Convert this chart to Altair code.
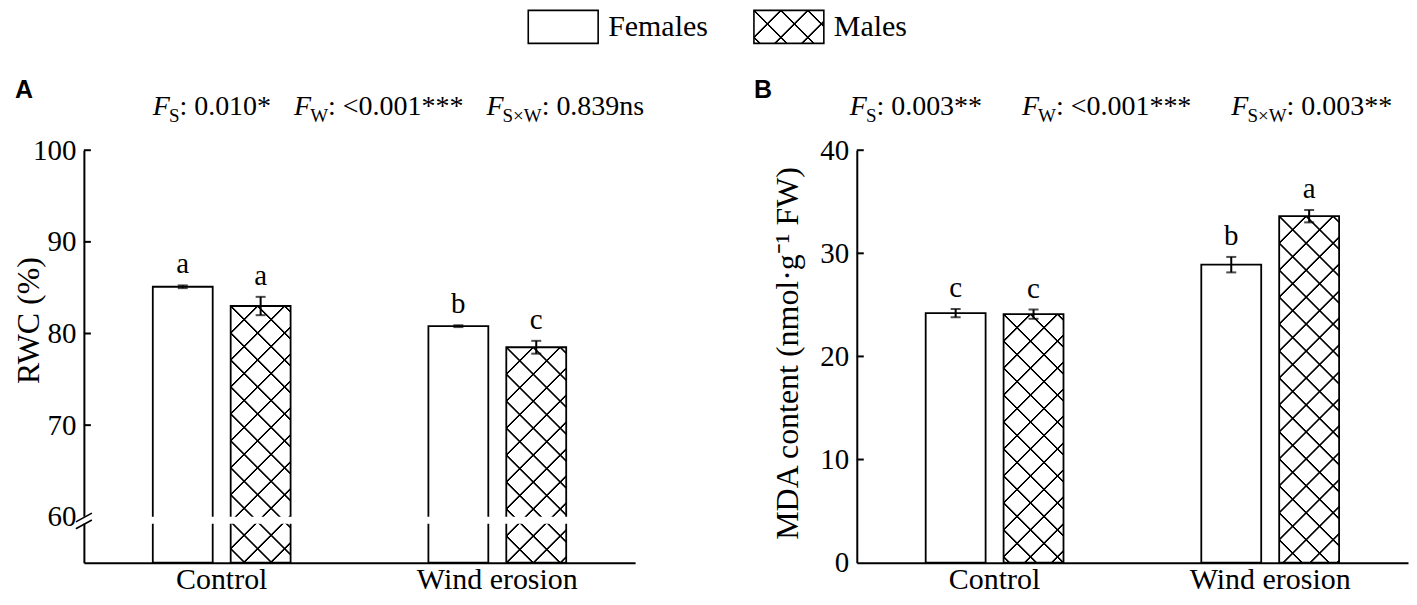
import math
import altair as alt
import pandas as pd

# ---------------- data ----------------
conditions = ["Control", "Wind erosion"]
sexes = ["Females", "Males"]
group_condition = ["Control", "Control", "Wind erosion", "Wind erosion"]
group_sex = ["Females", "Males", "Females", "Males"]

rwc_mean = [85.1, 83.0, 80.8, 78.5]
rwc_se = [0.15, 1.0, 0.1, 0.7]
rwc_letter = ["a", "a", "b", "c"]
rwc_ticks = [60, 70, 80, 90, 100]
rwc_inward = [70, 80, 90, 100]

mda_mean = [24.2, 24.1, 28.9, 33.6]
mda_se = [0.4, 0.45, 0.75, 0.6]
mda_letter = ["c", "c", "b", "a"]
mda_ticks = [0, 10, 20, 30, 40]
mda_inward = [10, 20, 30, 40]

rwc_stats = [("S", "0.010*"), ("W", "<0.001***"), ("S×W", "0.839ns")]
mda_stats = [("S", "0.003**"), ("W", "<0.001***"), ("S×W", "0.003**")]

# ---------------- style ----------------
SERIF = "Liberation Serif"
SANS = "Liberation Sans"
INK = "black"
CLEAR = "rgba(0,0,0,0)"
PW, PH = 552, 413
PI, PO = 0.2308, 0.8846
STEP = (PW / 2) / (2 - PI + 2 * PO)
BAR_W = STEP * (1 - PI)
HATCH_STEP = 27.0
HATCH_LW = 1.0
HATCH_SOFT = 0.6
TOP_ANCHOR = 99

WID = {' ': 250, ':': 278, '.': 250, '*': 500, '<': 564, 'n': 500, 's': 389,
       'S': 556, 'W': 944, '×': 564}


def text_w(s, size):
    return sum(WID.get(ch, 500) for ch in s) * size / 1000.0


def make_df(mean, se, letter):
    return pd.DataFrame({
        "condition": group_condition,
        "sex": group_sex,
        "mean": mean,
        "lo": [m - s for m, s in zip(mean, se)],
        "hi": [m + s for m, s in zip(mean, se)],
        "letter": letter,
    })


def hatch(w, h, family):
    S = w + h
    k = S / (w * w + h * h)
    if family == 0:
        x1, y1, x2, y2 = 0.0, 0.0, k * w, k * h
        ts = [n * HATCH_STEP / S for n in range(0, int(S // HATCH_STEP) + 1)]
    else:
        x1, y1, x2, y2 = 0.0, 1.0, k * w, 1.0 - k * h
        n0 = math.ceil(-h / HATCH_STEP)
        n1 = math.floor(w / HATCH_STEP)
        ts = [(n * HATCH_STEP + h) / S for n in range(n0, n1 + 1)]
    core = HATCH_LW * math.sqrt(2) / 2 / S
    ramp = HATCH_SOFT * math.sqrt(2) / S
    stops = []
    last = 0.0
    for t in ts:
        for off, col in ((t - core - ramp, CLEAR), (t - core, INK),
                         (t + core, INK), (t + core + ramp, CLEAR)):
            off = min(max(off, last), 1.0)
            last = off
            stops.append(alt.GradientStop(offset=round(off, 6), color=col))
    return alt.LinearGradient(gradient="linear", stops=stops,
                              x1=x1, y1=y1, x2=x2, y2=y2)


def txt(s, x, y, size, font=SERIF, italic=False, bold=False,
        align="left", baseline="alphabetic"):
    mk = dict(font=font, fontSize=size, color=INK, align=align, baseline=baseline)
    if italic:
        mk["fontStyle"] = "italic"
    if bold:
        mk["fontWeight"] = "bold"
    return alt.Chart(pd.DataFrame({"t": [s]})).mark_text(**mk).encode(
        text="t:N", x=alt.value(x), y=alt.value(y))


F_SIZE, SUB_SIZE, SUB_DROP = 28, 19, 7


def stat_layers(stats, x0, gap, base_y):
    out = []
    x = x0
    for sub, val in stats:
        out.append(txt("F", x, base_y, F_SIZE, italic=True))
        xs = x + 0.611 * F_SIZE - 1
        out.append(txt(sub, xs, base_y + SUB_DROP, SUB_SIZE))
        xr = xs + text_w(sub, SUB_SIZE)
        rest = ": " + val
        out.append(txt(rest, xr, base_y, F_SIZE))
        x = xr + text_w(rest, F_SIZE) + gap
    return out


def anchor(x_left, x_right):
    return alt.Chart(pd.DataFrame({"a": [0]})).mark_rect(opacity=0).encode(
        x=alt.value(x_left), x2=alt.value(x_right),
        y=alt.value(-TOP_ANCHOR), y2=alt.value(-TOP_ANCHOR + 1))


def panel(df, ymin, ymax, ticks, inward, ytitle, title_x, title_y, tag, tag_x,
          stats, stats_x, gap, left, right, brk=None):
    xaxis = alt.Axis(title=None, labelAngle=0, ticks=False, tickSize=0, labelPadding=2,
                     domainColor=INK, domainWidth=2, labelFont=SERIF, labelFontSize=30,
                     labelColor=INK, grid=False)
    yaxis = alt.Axis(title=ytitle, values=ticks, ticks=False, tickSize=0, labelPadding=8,
                     domainColor=INK, domainWidth=2, labelFont=SERIF, labelFontSize=29,
                     labelColor=INK, grid=False, titleFont=SERIF, titleFontSize=32,
                     titleFontWeight="normal", titleColor=INK, titleX=title_x,
                     titleY=title_y, titleAngle=270, titleAlign="center",
                     titleBaseline="middle", labelOverlap=False)
    xscale = alt.Scale(paddingInner=0, paddingOuter=0)
    oscale = alt.Scale(paddingInner=PI, paddingOuter=PO)
    yscale = alt.Scale(domain=[ymin, ymax], zero=False, nice=False)
    X = alt.X("condition:N", sort=conditions, scale=xscale, axis=xaxis)
    XO = alt.XOffset("sex:N", sort=sexes, scale=oscale)

    def Y(field):
        return alt.Y(field, type="quantitative", scale=yscale, axis=yaxis)

    base = alt.Chart(df)
    layers = [base.mark_bar(fill="white", strokeWidth=0).encode(
        x=X, xOffset=XO, y=Y("mean"), y2=alt.datum(ymin))]
    for cond, sex, m in zip(df["condition"], df["sex"], df["mean"]):
        if sex != "Males":
            continue
        h = (m - ymin) / (ymax - ymin) * PH
        for fam in (0, 1):
            layers.append(
                base.transform_filter((alt.datum.condition == cond) & (alt.datum.sex == sex))
                .mark_bar(fill=hatch(BAR_W, h, fam), strokeWidth=0)
                .encode(x=X, xOffset=XO, y=Y("mean"), y2=alt.datum(ymin)))
    layers.append(base.mark_bar(fill="transparent", stroke=INK, strokeWidth=1.8).encode(
        x=X, xOffset=XO, y=Y("mean"), y2=alt.datum(ymin)))
    if brk is not None:
        one = alt.Chart(pd.DataFrame({"a": [0]}))
        layers.append(one.mark_rect(fill="white").encode(
            x=alt.value(-3), x2=alt.value(PW), y=alt.datum(brk[0]), y2=alt.datum(brk[1])))
        for ya, yb in brk[2]:
            layers.append(one.mark_rule(color=INK, strokeWidth=1.6).encode(
                x=alt.value(-8), x2=alt.value(8), y=alt.datum(ya), y2=alt.datum(yb)))
    layers.append(base.mark_rule(color=INK, strokeWidth=2).encode(
        x=X, xOffset=XO, y=Y("lo"), y2="hi:Q"))
    layers.append(base.mark_tick(color=INK, thickness=2, size=10).encode(
        x=X, xOffset=XO, y=Y("lo")))
    layers.append(base.mark_tick(color=INK, thickness=2, size=10).encode(
        x=X, xOffset=XO, y=Y("hi")))
    layers.append(base.mark_text(font=SERIF, fontSize=29, color=INK, baseline="alphabetic",
                                 dy=-12).encode(x=X, xOffset=XO, y=Y("hi"), text="letter:N"))
    layers.append(alt.Chart(pd.DataFrame({"v": inward})).mark_rule(color=INK, strokeWidth=2)
                  .encode(y=Y("v"), x=alt.value(0), x2=alt.value(7)))
    layers.append(txt(tag, tag_x, -52, 25, font=SANS, bold=True))
    layers += stat_layers(stats, stats_x, gap, -35)
    layers.append(anchor(left, right))
    return alt.layer(*layers).properties(width=PW, height=PH)


rwc_df = make_df(rwc_mean, rwc_se, rwc_letter)
mda_df = make_df(mda_mean, mda_se, mda_letter)

panel_a = panel(rwc_df, 55, 100, rwc_ticks, rwc_inward, "RWC (%)", -55, 170, "A", -69,
                rwc_stats, 69, 23, -75, 667,
                brk=(59.25, 60.0, [(59.45, 60.4), (58.7, 59.65)]))
panel_b = panel(mda_df, 0, 40, mda_ticks, mda_inward, "MDA content (nmol·g⁻¹ FW)", -69, 203,
                "B", -103, mda_stats, -7, 40, -105, PW)

# ---------------- legend (origin aligned with panel A's plot origin) ----------------
LEG_BOX_X = [445, 671]
LEG_W, LEG_H = 70, 33
leg_layers = []
for sex, x0 in zip(sexes, LEG_BOX_X):
    one = alt.Chart(pd.DataFrame({"s": [sex]}))
    leg_layers.append(one.mark_rect(fill="white").encode(
        x=alt.value(x0), x2=alt.value(x0 + LEG_W), y=alt.value(1), y2=alt.value(1 + LEG_H)))
    if sex == "Males":
        for fam in (0, 1):
            leg_layers.append(one.mark_rect(fill=hatch(LEG_W, LEG_H, fam)).encode(
                x=alt.value(x0), x2=alt.value(x0 + LEG_W), y=alt.value(1),
                y2=alt.value(1 + LEG_H)))
    leg_layers.append(one.mark_rect(fill="transparent", stroke=INK, strokeWidth=1.6).encode(
        x=alt.value(x0), x2=alt.value(x0 + LEG_W), y=alt.value(1), y2=alt.value(1 + LEG_H)))
    leg_layers.append(one.mark_text(font=SERIF, fontSize=30, color=INK, align="left",
                                    baseline="middle").encode(
        text="s:N", x=alt.value(x0 + LEG_W + 10), y=alt.value(1 + LEG_H / 2)))
legend = alt.layer(*leg_layers).properties(width=PW, height=40)

row = alt.hconcat(panel_a, panel_b, spacing=0)
chart = (alt.vconcat(legend, row, spacing=0)
         .properties(padding=0)
         .configure_view(stroke="transparent"))

chart.save("out.html", embed_options={"renderer": "svg", "actions": False})
